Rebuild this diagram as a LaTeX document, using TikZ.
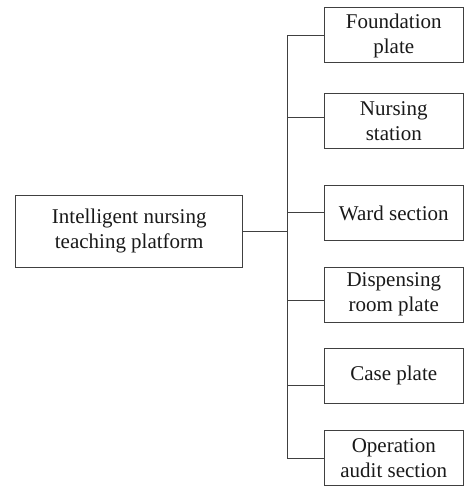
\documentclass[tikz,border=0pt]{standalone}
\usepackage{fontspec}
\setmainfont{Liberation Serif}
\begin{document}
\begin{tikzpicture}[x=1pt,y=-1pt,
  box/.style={draw=black!75,line width=1pt,inner sep=0pt,align=center,
    font=\fontsize{21}{25}\selectfont,text=black!90},
  leaf/.style={box,minimum width=139.5pt,minimum height=55pt},
  link/.style={draw=black!75,line width=1pt}]
\useasboundingbox (0,0) rectangle (464,486);
\node[box,minimum width=227pt,minimum height=72pt] (root) at (129.2,231) {Intelligent nursing\\teaching platform};
\node[leaf] (n1) at (393.75,35.5) {Foundation\\plate};
\node[leaf] (n2) at (393.75,121.5) {Nursing\\station};
\node[leaf] (n3) at (393.75,213) {Ward section};
\node[leaf] (n4) at (393.75,294.5) {Dispensing\\room plate};
\node[leaf] (n5) at (393.75,375.5) {Case plate};
\node[leaf] (n6) at (393.75,458) {Operation\\audit section};
\coordinate (b1) at (287.3,35.5);
\coordinate (b2) at (287.3,117.3);
\coordinate (b3) at (287.3,212.3);
\coordinate (b4) at (287.3,300);
\coordinate (b5) at (287.3,385);
\coordinate (b6) at (287.3,458);
\coordinate (bm) at (287.3,231);
\draw[link] (b1) -- (b6);
\draw[link] (root.east |- bm) -- (bm);
\foreach \i in {1,...,6} \draw[link] (b\i) -- (b\i -| n\i.west);
\end{tikzpicture}
\end{document}
